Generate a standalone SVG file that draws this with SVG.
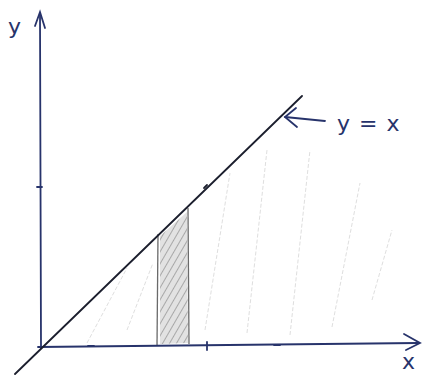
<svg xmlns="http://www.w3.org/2000/svg" width="430" height="375" viewBox="0 0 430 375">
<defs>
<pattern id="hatch" width="6" height="6" patternUnits="userSpaceOnUse" patternTransform="rotate(30)">
<rect width="6" height="6" fill="#e2e2e2"/>
<line x1="0" y1="0" x2="0" y2="6" stroke="#a8a8a8" stroke-width="2"/>
</pattern>
</defs>
<style>
.axis{stroke:#27336b;stroke-width:1.8;fill:none;stroke-linecap:round}
.line{stroke:#1c1f2e;stroke-width:1.8;fill:none;stroke-linecap:round}
.faint{stroke:#dadada;stroke-width:0.9;fill:none;stroke-dasharray:4 2}
.strip{stroke:#6a6a6a;stroke-width:1.3;fill:none}
.lbl{font-family:"DejaVu Sans","Liberation Sans",sans-serif;fill:#27336b;font-size:22px}
</style>
<rect width="430" height="375" fill="#ffffff"/>
<g id="hatching">
<line class="faint" x1="87" y1="343" x2="127" y2="268"/>
<line class="faint" x1="127" y1="330" x2="153" y2="263"/>
<line class="faint" x1="205" y1="330" x2="230" y2="173"/>
<line class="faint" x1="247" y1="333" x2="267" y2="150"/>
<line class="faint" x1="290" y1="335" x2="310" y2="150"/>
<line class="faint" x1="332" y1="327" x2="360" y2="183"/>
<line class="faint" x1="372" y1="300" x2="392" y2="230"/>
</g>
<g id="strip">
<polygon points="160,236 187,212 188,343 160,344" fill="url(#hatch)" stroke="none"/>
<line class="strip" x1="158" y1="234" x2="157" y2="346"/>
<line class="strip" x1="188" y1="208" x2="189" y2="344"/>
</g>
<g id="connectors">
<path class="axis" d="M41 348 L40 14"/>
<path class="axis" d="M35 26 L40 12 L45 28"/>
<path class="axis" d="M38 347 L418 343"/>
<path class="axis" d="M404 334 L420 343 L406 350"/>
<path class="line" d="M15 374 L302 96"/>
<path class="axis" d="M285 117 L325 121"/>
<path class="axis" d="M296 108 L285 117 L297 127"/>
<path class="axis" d="M37 187 L42 187"/>
<path class="axis" d="M207 342 L207 350"/>
<path class="axis" d="M274 345 L280 345"/>
<path class="axis" d="M88 346 L94 346"/>
<path class="line" d="M204 188 L207 185"/>
</g>
<g id="labels">
<text class="lbl" x="8" y="34">y</text>
<text class="lbl" x="337" y="131" word-spacing="2">y = x</text>
<text class="lbl" x="402" y="369">x</text>
</g>
</svg>
